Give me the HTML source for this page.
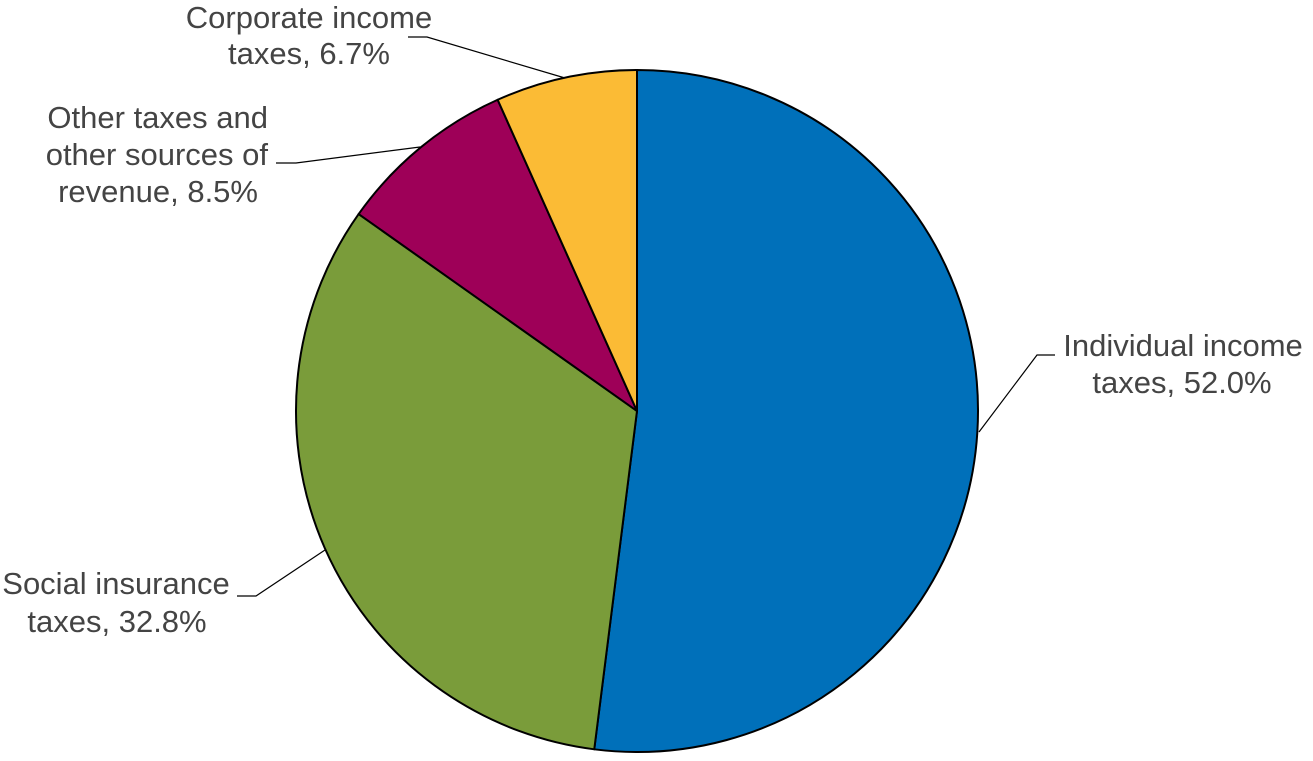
<!DOCTYPE html>
<html><head><meta charset="utf-8"><style>
body{margin:0;background:#fff;}
svg text{font-family:"Liberation Sans",Arial,sans-serif;font-size:31px;fill:#444;}
</style></head><body>
<svg id="chart" width="1313" height="756" viewBox="0 0 1313 756">
<g id="slices"></g>
<g id="labels">
<polyline points="408,37 427,37 565,78" fill="none" stroke="#000" stroke-width="1.2"/>
<polyline points="276,163 296,163 420,147" fill="none" stroke="#000" stroke-width="1.2"/>
<polyline points="979,432 1037,355 1055,355" fill="none" stroke="#000" stroke-width="1.2"/>
<polyline points="237,596 256,596 325,550" fill="none" stroke="#000" stroke-width="1.2"/>
<text x="309" y="28" text-anchor="middle"><tspan x="309">Corporate income</tspan><tspan x="309" dy="36">taxes, 6.7%</tspan></text>
<text x="268" y="128" text-anchor="end"><tspan x="268">Other taxes and</tspan><tspan x="268" dy="37">other sources of</tspan><tspan x="258" dy="37">revenue, 8.5%</tspan></text>
<text x="1183" y="356" text-anchor="middle"><tspan x="1183">Individual income</tspan><tspan x="1182" dy="37">taxes, 52.0%</tspan></text>
<text x="116" y="594" text-anchor="middle"><tspan x="116">Social insurance</tspan><tspan x="117" dy="38">taxes, 32.8%</tspan></text>
</g>
</svg>
<script>
const categories = ["Individual income taxes","Social insurance taxes","Other taxes and other sources of revenue","Corporate income taxes"];
const values = [52.0, 32.8, 8.5, 6.7];
const colors = ["#0070BA","#7A9C3A","#9E0058","#FBBB35"];
const cx=637, cy=411, r=341;
const g=document.getElementById('slices');
const total=values.reduce((a,b)=>a+b,0);
let start=0;
values.forEach((v,i)=>{
  const a0=start/total*2*Math.PI, a1=(start+v)/total*2*Math.PI;
  start+=v;
  const x0=cx+r*Math.sin(a0), y0=cy-r*Math.cos(a0);
  const x1=cx+r*Math.sin(a1), y1=cy-r*Math.cos(a1);
  const large=(a1-a0)>Math.PI?1:0;
  const p=document.createElementNS('http://www.w3.org/2000/svg','path');
  p.setAttribute('d',`M${cx},${cy} L${x0},${y0} A${r},${r} 0 ${large} 1 ${x1},${y1} Z`);
  p.setAttribute('fill',colors[i]);
  p.setAttribute('stroke','#000');
  p.setAttribute('stroke-width','2');
  p.setAttribute('stroke-linejoin','round');
  
  
  g.appendChild(p);
});
</script>
</body></html>
